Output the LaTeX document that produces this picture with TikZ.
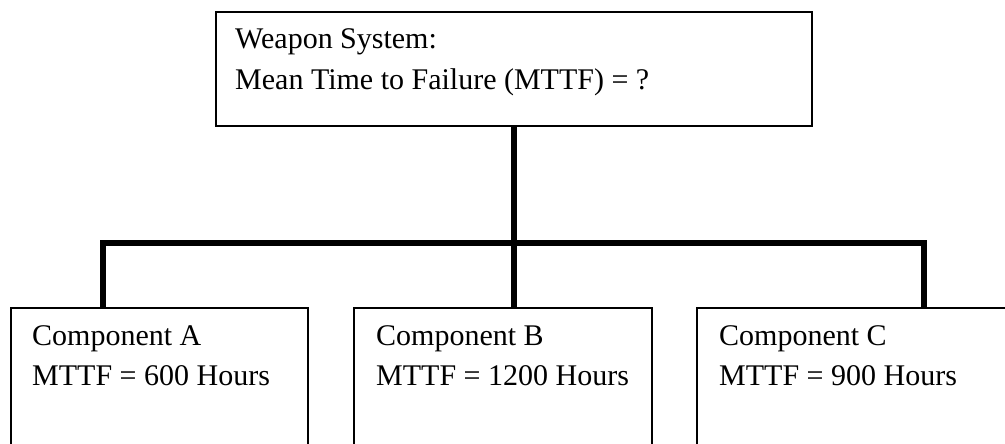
\documentclass[tikz,border=0pt]{standalone}
\usepackage{fontspec}
\setmainfont{Liberation Serif}
\begin{document}
\begin{tikzpicture}[x=1pt,y=-1pt,
  box/.style={draw=black,line width=1.8pt,rectangle,inner sep=0pt},
  lbl/.style={anchor=base west,inner sep=0pt,font=\fontsize{30}{38}\selectfont},
  conn/.style={draw=black,line width=5.5pt,line join=miter}]
\useasboundingbox (0,0) rectangle (1005,444);
% boxes
\node[box,minimum width=596pt,minimum height=114pt] (top) at (514,69) {};
\node[box,minimum width=297pt,minimum height=137pt] (A) at (159.5,376.5) {};
\node[box,minimum width=298pt,minimum height=137pt] (B) at (503,376.5) {};
\node[box,minimum width=315pt,minimum height=137pt] (C) at (854.5,376.5) {};
% texts
\node[lbl] (t1) at (235,49) {Weapon System:};
\node[lbl] (t2) at (235,89) {Mean Time to Failure (MTTF) = ?};
\node[lbl] (a1) at (32,345) {Component A};
\node[lbl] (a2) at (32,385) {MTTF = 600 Hours};
\node[lbl] (b1) at (376,345) {Component B};
\node[lbl] (b2) at (376,385) {MTTF = 1200 Hours};
\node[lbl] (c1) at (719,345) {Component C};
\node[lbl] (c2) at (719,385) {MTTF = 900 Hours};
% connectors
\coordinate (barL) at (103,243);
\coordinate (barR) at (924,243);
\draw[conn] (top.south) -- (top.south |- B.north);
\draw[conn] (barL |- A.north) -- (barL) -- (barR) -- (barR |- C.north);
\end{tikzpicture}
\end{document}
